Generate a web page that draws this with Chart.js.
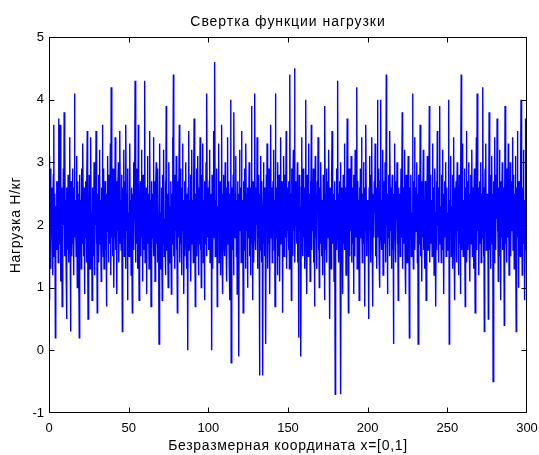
<!DOCTYPE html>
<html>
<head>
<meta charset="utf-8">
<script src="https://cdn.jsdelivr.net/npm/chart.js@4/dist/chart.umd.min.js"></script>
<style>
html,body{margin:0;padding:0;background:#fff;}
canvas{display:block;}
</style>
</head>
<body>
<canvas id="c" width="539" height="455"></canvas>
<script>
// Load convolution samples: 1200 samples over x = 0..300 (200 per 50 units)
const load_0_50 = [
3.1, 0.8, 3.0, 1.7, 2.9, 1.3, 2.4, 1.9, 2.6, 1.2, 2.2, 2.8, 3.6, 1.5, 2.0, 2.5, 0.2, 2.3, 1.8, 2.7,
1.6, 2.1, 2.7, 1.4, 3.7, 2.0, 1.7, 2.4, 3.6, 1.1, 2.3, 1.9, 2.6, 0.7, 2.2, 1.6, 2.9, 2.0, 3.8, 1.5,
3.3, 1.8, 2.4, 1.3, 0.5, 2.6, 2.1, 1.6, 2.8, 2.2, 1.4, 2.5, 3.4, 1.9, 0.3, 2.3, 2.7, 1.5, 2.0, 2.9,
1.7, 2.2, 1.2, 2.6, 4.1, 1.8, 2.4, 2.0, 1.5, 3.1, 2.3, 1.0, 2.7, 1.9, 2.5, 1.4, 0.2, 2.8, 2.1, 1.6,
2.4, 1.3, 2.9, 2.0, 1.7, 3.3, 2.2, 1.5, 2.6, 0.9, 2.3, 1.8, 2.7, 2.1, 1.4, 2.5, 3.5, 1.9, 0.5, 2.2,
1.6, 2.8, 2.0, 1.3, 2.5, 3.4, 1.8, 2.2, 0.8, 2.6, 1.9, 2.4, 1.5, 3.0, 2.1, 1.2, 2.7, 2.0, 3.5, 1.7,
2.3, 0.6, 2.5, 1.9, 2.8, 1.4, 2.2, 3.2, 1.7, 2.4, 2.0, 1.1, 2.6, 1.8, 3.6, 2.1, 1.5, 2.9, 1.3, 2.3,
2.0, 2.7, 1.6, 2.2, 0.7, 2.5, 1.9, 3.1, 2.3, 1.4, 2.8, 2.0, 1.7, 2.4, 3.3, 1.2, 4.2, 1.8, 2.6, 2.1,
1.5, 2.9, 2.2, 1.0, 2.5, 1.8, 3.4, 2.1, 1.6, 2.7, 0.9, 2.3, 1.9, 2.6, 3.0, 1.4, 2.2, 1.7, 3.5, 2.0,
2.4, 1.6, 2.8, 2.1, 0.3, 2.6, 1.8, 2.3, 3.2, 1.5, 2.0, 2.7, 1.3, 3.6, 2.2, 1.9, 2.5, 0.8, 2.9, 1.7
];
const load_50_100 = [
2.2, 1.5, 2.7, 3.3, 1.8, 2.4, 1.2, 2.6, 2.0, 0.6, 2.5, 1.9, 3.0, 1.6, 2.3, 2.8, 4.3, 1.4, 2.1, 2.6,
1.7, 2.9, 2.0, 1.3, 3.6, 2.2, 0.8, 2.4, 1.9, 2.7, 1.5, 2.1, 3.2, 1.8, 2.5, 1.1, 2.8, 2.0, 1.6, 2.4,
4.3, 1.4, 2.3, 1.9, 2.6, 0.9, 2.2, 3.1, 1.7, 2.5, 2.0, 1.3, 2.8, 3.5, 1.6, 2.4, 0.7, 2.1, 2.7, 1.8,
2.5, 1.9, 3.4, 1.5, 2.2, 2.7, 1.1, 2.0, 2.6, 3.0, 1.7, 2.3, 1.4, 2.9, 2.1, 1.8, 0.1, 2.4, 3.3, 1.6,
2.2, 1.3, 2.6, 2.0, 0.8, 2.8, 1.7, 2.4, 3.2, 1.5, 2.1, 1.9, 2.7, 1.2, 3.9, 2.3, 1.6, 2.5, 2.0, 1.0,
2.6, 3.0, 1.8, 2.3, 1.4, 2.7, 2.1, 0.9, 2.5, 1.7, 3.4, 2.0, 4.4, 1.5, 2.2, 2.8, 1.3, 2.4, 1.9, 3.1,
1.6, 2.3, 0.6, 2.7, 2.0, 1.8, 2.5, 3.6, 1.4, 2.2, 2.9, 1.7, 2.1, 1.2, 2.6, 3.3, 1.9, 2.4, 0.9, 2.0,
2.7, 1.5, 2.3, 3.0, 1.8, 2.5, 1.3, 2.1, 0.0, 2.6, 2.0, 3.5, 1.6, 2.4, 1.9, 2.8, 1.1, 2.2, 3.2, 1.7,
2.4, 2.0, 1.4, 2.7, 3.7, 1.8, 2.2, 0.7, 2.5, 1.9, 2.9, 1.5, 2.3, 3.1, 2.0, 1.2, 2.6, 1.7, 2.1, 3.4,
1.6, 2.5, 1.0, 2.2, 2.8, 1.9, 3.3, 1.4, 2.4, 2.0, 0.8, 2.7, 1.7, 2.3, 3.0, 1.5, 4.1, 2.1, 1.8, 2.6
];
const load_100_150 = [
2.0, 1.6, 2.7, 3.2, 1.4, 2.3, 1.9, 2.5, 0.0, 2.8, 2.1, 1.3, 2.6, 3.5, 1.8, 2.2, 4.6, 1.5, 2.4, 2.0,
1.7, 2.9, 0.7, 2.3, 1.9, 2.6, 3.3, 1.4, 2.1, 2.7, 1.2, 2.4, 2.0, 3.6, 1.6, 2.5, 0.9, 2.2, 2.8, 1.8,
2.4, 1.5, 3.0, 2.1, 1.8, 2.6, 1.1, 2.3, 3.4, 1.7, 2.0, 2.7, 1.4, 2.5, 0.8, 2.2, 4.0, -0.2, 2.6, 1.9,
2.3, 1.6, 2.8, 1.2, 3.8, 2.0, 2.5, 1.8, 2.2, 3.1, 1.5, 2.4, 0.9, 2.7, 2.0, 1.7, -0.1, 2.5, 3.2, 1.9,
2.1, 2.6, 1.4, 3.5, 2.2, 1.8, 2.4, 0.6, 2.7, 2.0, 1.6, 2.9, 2.3, 1.3, 3.3, 2.1, 1.9, 2.5, 1.0, 2.6,
1.8, 2.3, 3.0, 1.5, 2.1, 2.6, 1.2, 2.4, 3.9, 1.7, 2.2, 0.8, 2.7, 2.0, 1.4, 2.5, 4.1, 1.9, 2.3, 1.6,
2.6, 2.0, 3.4, 1.3, 2.4, 1.8, 2.8, 2.2, -0.4, 2.5, 1.6, 3.1, 2.0, 1.4, 2.7, 2.3, -0.4, 2.1, 3.0, 1.7,
2.3, 1.5, 2.6, 2.0, 0.1, 2.8, 1.9, 3.3, 2.2, 1.3, 2.5, 1.7, 2.9, 2.1, 0.9, 2.4, 3.6, 1.8, 2.0, 2.6,
1.4, 2.2, 2.7, 1.9, 3.2, 1.6, 2.4, 0.7, 4.1, 2.0, 1.8, 2.6, 2.3, 1.2, 3.0, 2.1, 1.5, 2.8, 2.0, 1.1,
2.5, 3.4, 1.7, 2.2, 1.9, 2.7, 0.6, 2.4, 2.0, 3.1, 1.5, 2.3, 2.8, 1.8, 2.1, 3.5, 1.3, 2.6, 1.9, 2.4
];
const load_150_200 = [
2.0, 1.6, 2.7, 1.3, 4.4, 2.2, 1.8, 2.5, 0.8, 2.9, 2.1, 1.5, 2.6, 3.2, 1.9, 2.3, 4.5, 1.4, 2.4, 2.0,
2.7, 1.7, 2.2, 3.0, 1.4, 2.5, 0.2, 2.1, 2.8, 1.9, 2.3, 1.6, -0.1, 2.6, 3.4, 2.0, 1.5, 2.4, 2.9, 1.8,
2.2, 1.3, 2.6, 2.0, 4.0, 1.7, 2.4, 0.9, 2.8, 2.1, 1.5, 3.3, 2.3, 1.8, 2.5, 1.1, 2.7, 2.0, 3.6, 1.6,
2.4, 1.9, 2.1, 2.9, 1.4, 2.6, 0.7, 2.3, 3.1, 1.8, 2.0, 2.5, 1.3, 2.7, 2.2, 3.4, 1.6, 2.4, 1.0, 2.1,
2.6, 1.7, 3.0, 2.2, 1.5, 2.4, 2.0, 1.2, 2.8, 1.9, 2.3, 0.8, 3.9, 2.1, 1.6, 2.5, 2.9, 1.4, 2.2, 2.7,
1.8, 2.3, 3.2, 1.5, 0.5, 2.6, 2.0, 2.4, 1.3, 2.8, 3.5, 1.7, 2.2, 1.9, 2.5, 1.1, 2.7, 2.1, -0.7, 2.4,
2.0, 1.6, 2.9, 2.3, 4.3, 1.8, 2.5, 1.4, 2.2, 2.7, 1.9, 3.0, -0.7, 2.4, 1.5, 2.6, 2.1, 0.9, 2.8, 1.7,
2.3, 3.3, 1.6, 2.1, 2.6, 1.2, 2.4, 2.0, 3.7, 1.8, 2.5, 0.6, 2.2, 2.9, 1.5, 2.0, 2.7, 1.9, 3.1, 1.4,
2.2, 2.6, 1.7, 2.4, 0.9, 2.8, 2.0, 1.5, 3.2, 2.3, 1.8, 2.5, 4.2, 1.3, 2.1, 2.7, 1.9, 2.4, 0.8, 2.6,
1.6, 2.9, 2.2, 1.8, 3.4, 2.0, 1.4, 2.5, 2.1, 3.0, 1.7, 2.3, 0.7, 2.6, 1.9, 3.6, 2.2, 1.5, 2.4, 2.0
];
const load_200_250 = [
2.3, 1.7, 0.5, 2.6, 3.1, 1.9, 2.4, 1.4, 2.8, 2.0, 3.4, 1.6, 0.7, 2.5, 2.1, 1.8, 2.7, 2.2, 3.3, 1.5,
2.4, 2.0, 1.3, 2.6, 4.0, 1.8, 2.2, 2.9, 1.5, 2.3, 1.0, 2.7, 4.0, 1.9, 2.4, 1.6, 2.1, 3.2, 1.2, 2.5,
2.0, 2.7, 1.7, 3.0, 2.2, 1.4, 4.4, 2.0, 2.5, 0.9, 2.3, 1.8, 2.8, 2.1, 1.5, 3.5, 2.4, 1.9, 2.6, 1.3,
2.2, 2.8, 1.6, 2.4, 0.1, 2.5, 2.0, 3.3, 1.8, 2.3, 1.4, 2.7, 2.1, 3.0, 1.7, 2.4, 0.8, 2.6, 1.9, 2.2,
2.5, 1.5, 2.3, 2.9, 1.8, 2.1, 3.8, 1.3, 2.6, 2.0, 1.7, 2.4, 3.2, 1.6, 2.2, 0.9, 2.8, 2.0, 1.4, 2.5,
2.1, 3.1, 1.7, 2.4, 0.2, 2.6, 1.9, 2.3, 2.8, 1.5, 2.2, 1.8, 4.1, 2.0, 1.3, 2.7, 2.4, 3.4, 1.6, 2.1,
2.6, 1.9, 2.3, 3.0, 1.4, 2.5, 0.1, 2.2, 2.8, 1.7, 2.0, 3.6, 1.5, 2.4, 2.1, 1.1, 2.7, 1.8, 2.3, 3.2,
1.6, 2.4, 2.0, 1.3, 2.7, 2.2, 0.8, 2.5, 1.9, 3.1, 2.3, 1.6, 2.6, 2.0, 3.9, 1.4, 2.2, 2.8, 1.7, 2.4,
2.1, 1.5, 3.3, 2.3, 1.8, 2.6, 1.2, 2.4, 2.9, 1.9, 0.7, 2.2, 2.7, 1.6, 3.5, 2.0, 2.4, 1.4, 2.6, 2.1,
3.9, 1.7, 2.3, 2.0, 1.4, 2.8, 2.2, 3.2, 1.6, 2.5, 0.9, 2.1, 2.7, 1.8, 2.4, 3.0, 1.5, 2.2, 2.6, 1.9
];
const load_250_300 = [
2.2, 1.6, 2.7, 4.0, 0.1, 2.4, 1.9, 2.6, 3.1, 1.5, 2.3, 2.0, 2.8, 1.3, 2.5, 3.4, 1.8, 2.2, 0.8, 2.6,
2.0, 2.7, 1.4, 2.3, 3.0, 1.9, 2.5, 1.2, 2.1, 2.8, 1.7, 2.4, 0.9, 2.6, 4.4, 1.6, 2.2, 3.3, 2.0, 1.5,
2.4, 1.8, 2.9, 2.2, 0.7, 2.6, 2.0, 3.5, 1.4, 2.3, 2.7, 1.6, 2.1, 3.0, 1.9, 2.5, 1.1, 2.4, 2.8, 1.7,
2.2, 3.2, 1.5, 2.6, 2.0, 1.3, 2.4, 2.9, 1.8, 0.6, 2.5, 2.1, 3.4, 1.6, 4.1, 2.3, 1.9, 2.6, 1.2, 2.0,
2.7, 1.7, 2.3, 3.0, 1.4, 2.5, 2.0, 1.8, 4.2, 2.2, 1.5, 2.6, 0.3, 2.4, 2.9, 1.9, 3.3, 1.6, 2.1, 2.5,
1.8, 2.4, 0.5, 2.2, 3.8, 1.6, 2.6, 2.0, 1.3, 2.8, 2.3, 3.1, 1.7, 2.5, -0.5, 2.1, 2.7, 1.4, 3.4, 2.0,
2.3, 1.6, 2.8, 2.1, 3.7, 1.9, 2.4, 1.1, 2.6, 2.0, 3.2, 1.5, 2.2, 0.8, 2.7, 1.8, 2.3, 3.0, 1.6, 2.5,
2.1, 2.6, 0.4, 2.3, 3.9, 1.7, 2.5, 2.0, 1.4, 2.9, 2.2, 1.8, 3.3, 2.4, 1.2, 2.6, 2.0, 3.0, 1.5, 2.3,
2.7, 1.9, 2.4, 3.4, 1.6, 2.2, 2.8, 1.3, 2.5, 2.0, 3.1, 1.7, 0.3, 2.6, 2.1, 3.5, 1.8, 2.4, 1.0, 2.7,
2.0, 2.5, 1.5, 2.8, 4.0, 1.9, 2.3, 1.2, 2.6, 2.1, 3.2, 1.7, 2.4, 0.8, 2.2, 3.7, 1.6, 2.5, 1.0, 4.0
];

const xTicks = [0, 50, 100, 150, 200, 250, 300];
const yTicks = [-1, 0, 1, 2, 3, 4, 5];
const titleText = 'Свертка функции нагрузки';
const xTitle = 'Безразмерная координата x=[0,1]';
const yTitle = 'Нагрузка Н/кг';

const loadValues = [].concat(load_0_50, load_50_100, load_100_150, load_150_200, load_200_250, load_250_300);
const xMax = xTicks[xTicks.length - 1];
const points = loadValues.map((v, i) => ({ x: i * xMax / (loadValues.length - 1), y: v }));

const FAMILY = '"Liberation Sans", Arial, Helvetica, sans-serif';
const TITLE_FONT = { family: FAMILY, size: 14, lineHeight: 1.2, weight: 'normal' };
const TICK_FONT = { family: FAMILY, size: 13, lineHeight: 1.2 };

// MATLAB-like wider letter spacing for title texts
const spacing = {
  id: 'spacing',
  beforeDraw(chart) {
    const ctx = chart.ctx;
    if (ctx._spacingPatched) return;
    const orig = ctx.fillText;
    ctx.fillText = function (t, x, y, mw) {
      const s = String(t);
      const ls = s === titleText ? '0.95px' : (s === xTitle || s === yTitle) ? '0.7px' : '0px';
      if ('letterSpacing' in this) this.letterSpacing = ls;
      const r = mw === undefined ? orig.call(this, t, x, y) : orig.call(this, t, x, y, mw);
      if ('letterSpacing' in this) this.letterSpacing = '0px';
      return r;
    };
    ctx._spacingPatched = true;
  }
};

const frameTicks = {
  id: 'frameTicks',
  afterDatasetsDraw(chart) {
    const { ctx, chartArea: a, scales } = chart;
    const L = Math.round(a.left) + 0.5, R = Math.round(a.right) - 0.5;
    const T = Math.round(a.top) + 0.5, B = Math.round(a.bottom) - 0.5;
    ctx.save();
    ctx.strokeStyle = '#000';
    ctx.lineWidth = 1;
    ctx.beginPath();
    const len = 5;
    xTicks.forEach(v => {
      const px = Math.min(R, Math.round(scales.x.getPixelForValue(v)) + 0.5);
      ctx.moveTo(px, B); ctx.lineTo(px, B - len);
      ctx.moveTo(px, T); ctx.lineTo(px, T + len);
    });
    yTicks.forEach(v => {
      const py = Math.max(T, Math.min(B, Math.round(scales.y.getPixelForValue(v)) + 0.5));
      ctx.moveTo(L, py); ctx.lineTo(L + len, py);
      ctx.moveTo(R, py); ctx.lineTo(R - len, py);
    });
    ctx.stroke();
    ctx.strokeRect(L, T, R - L, B - T);
    ctx.restore();
  }
};

new Chart(document.getElementById('c'), {
  type: 'line',
  data: {
    datasets: [{
      data: points,
      borderColor: '#0000ff',
      borderWidth: 1.4,
      pointRadius: 0,
      tension: 0,
      fill: false
    }]
  },
  options: {
    responsive: false,
    animation: false,
    devicePixelRatio: 1,
    events: [],
    layout: { padding: { left: 0, right: 12, top: 0, bottom: 0 } },
    plugins: {
      legend: { display: false },
      tooltip: { enabled: false },
      title: {
        display: true,
        text: titleText,
        color: '#000',
        fullSize: false,
        font: TITLE_FONT,
        padding: { top: 13.9, bottom: 6.3 }
      }
    },
    scales: {
      x: {
        type: 'linear',
        min: 0, max: 300,
        afterFit: s => { s.height = 42; s.paddingLeft = 0; s.paddingRight = 0; },
        afterBuildTicks: s => { s.ticks = xTicks.map(v => ({ value: v })); },
        grid: { display: false, drawTicks: false },
        border: { display: false },
        ticks: { color: '#000', font: TICK_FONT, padding: 8, autoSkip: false, maxRotation: 0 },
        title: { display: true, text: xTitle, color: '#000', font: TITLE_FONT, padding: { top: 0, bottom: 0.6 } }
      },
      y: {
        type: 'linear',
        min: -1, max: 5,
        afterFit: s => { s.width = 49; s.paddingTop = 0; s.paddingBottom = 0; },
        afterBuildTicks: s => { s.ticks = yTicks.map(v => ({ value: v })); },
        grid: { display: false, drawTicks: false },
        border: { display: false },
        ticks: { color: '#000', font: TICK_FONT, padding: 5, autoSkip: false },
        title: { display: true, text: yTitle, color: '#000', font: TITLE_FONT, padding: { top: 7.6, bottom: 0 } }
      }
    }
  },
  plugins: [spacing, frameTicks]
});
</script>
</body>
</html>
